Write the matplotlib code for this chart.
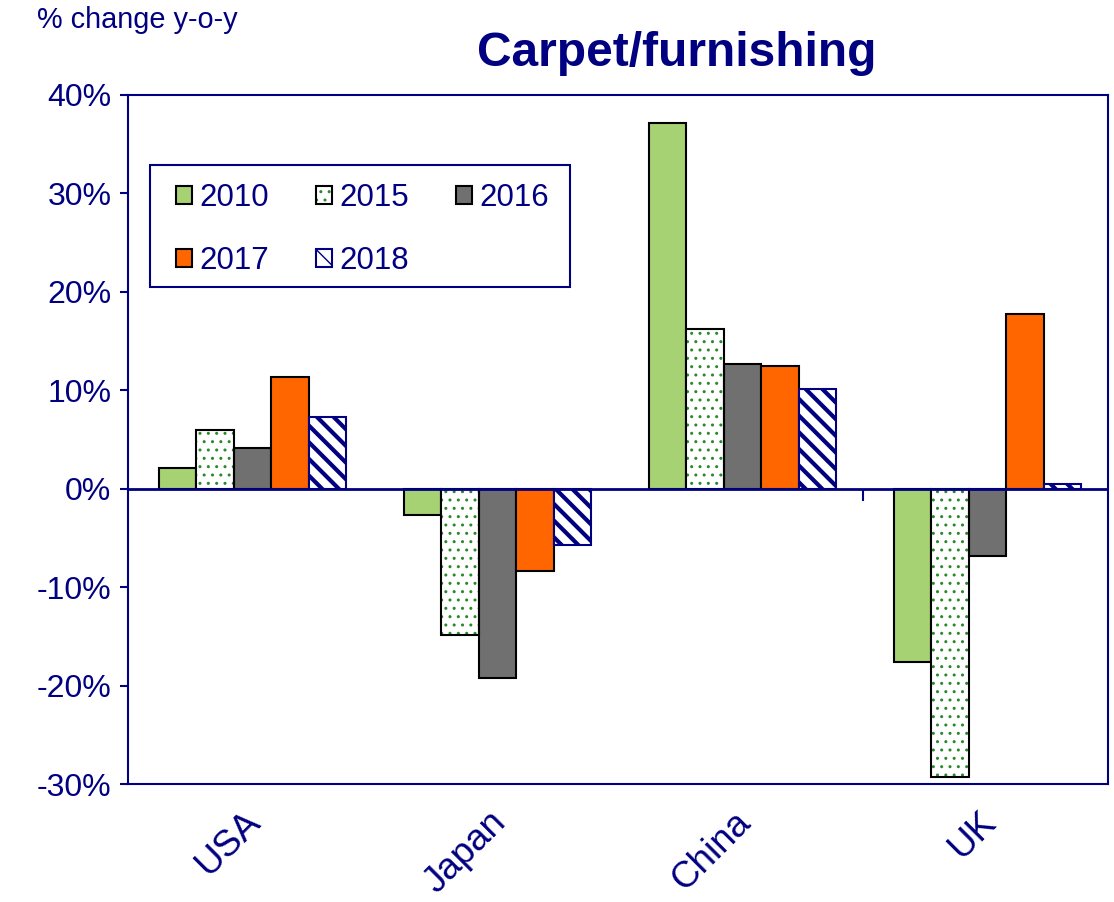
import matplotlib
matplotlib.use("Agg")
import matplotlib.pyplot as plt
import numpy as np
from matplotlib.patches import Rectangle
from matplotlib.ticker import FuncFormatter

plt.rcParams['font.family'] = ['Liberation Sans', 'DejaVu Sans']

categories = ["USA", "Japan", "China", "UK"]
years = ["2010", "2015", "2016", "2017", "2018"]
v2010 = [2.1, -2.7, 37.2, -17.6]
v2015 = [6.0, -14.9, 16.2, -29.3]
v2016 = [4.1, -19.2, 12.7, -6.8]
v2017 = [11.3, -8.4, 12.5, 17.8]
v2018 = [7.3, -5.7, 10.1, 0.5]
series = [v2010, v2015, v2016, v2017, v2018]
yticks = [40, 30, 20, 10, 0, -10, -20, -30]

NAVY = "#000080"
GREEN = "#A6D274"
DOTG = "#2A8A2A"
GRAY = "#707070"
ORANGE = "#FF6600"

fig = plt.figure(figsize=(11.14, 9.02), dpi=100)
ax = fig.add_axes([128/1114, 1-784/902, (1108-128)/1114, (784-95)/902])

x = np.arange(len(categories))
w = 0.153
offs = (np.arange(len(years)) - 2) * w + 0.008
handles = []

# 2010
b = ax.bar(x + offs[0], series[0], w, facecolor=GREEN, edgecolor="black", linewidth=1.5, zorder=3)
handles.append(b[0])
# 2015 dotted
bh = ax.bar(x + offs[1], series[1], w, facecolor="white", edgecolor=DOTG, hatch="..", linewidth=0, zorder=3)
bo = ax.bar(x + offs[1], series[1], w, fill=False, edgecolor="black", linewidth=1.5, zorder=4)
handles.append((bh[0], bo[0]))
# 2016
b = ax.bar(x + offs[2], series[2], w, facecolor=GRAY, edgecolor="black", linewidth=1.5, zorder=3)
handles.append(b[0])
# 2017
b = ax.bar(x + offs[3], series[3], w, facecolor=ORANGE, edgecolor="black", linewidth=1.5, zorder=3)
handles.append(b[0])
# 2018 striped
with plt.rc_context({'hatch.linewidth': 3.0}):
    b = ax.bar(x + offs[4], series[4], w, facecolor="white", edgecolor=NAVY, hatch="\\\\", linewidth=1.5, zorder=3)
    for p in b:
        if hasattr(p, "set_hatch_linewidth"):
            p.set_hatch_linewidth(3.0)
handles.append(b[0])

ax.axhline(0, color=NAVY, linewidth=2, zorder=5)
ax.vlines(len(categories) - 1.5, -1.2, 0, color=NAVY, linewidth=1.5, zorder=5)

ax.set_xlim(-0.5, len(categories) - 0.5)
ax.set_ylim(-30, 40)
ax.set_yticks(yticks)
ax.yaxis.set_major_formatter(FuncFormatter(lambda v, p: f"{int(v)}%"))
ax.set_xticks(x + 0.07)
ax.set_xticklabels(categories, rotation=45, ha="right")
ax.tick_params(axis="x", length=0, pad=15, labelsize=26.5, labelcolor=NAVY)
ax.tick_params(axis="y", length=6, width=1.5, color=NAVY, labelsize=23, labelcolor=NAVY, pad=6)
for s in ax.spines.values():
    s.set_color(NAVY)
    s.set_linewidth(1.5)

ax.add_patch(Rectangle((150/1114, 1-287/902), 420/1114, 122/902, transform=fig.transFigure,
                       fill=True, facecolor="white", edgecolor=NAVY, linewidth=1.5, zorder=6,
                       clip_on=False))
order = [0, 3, 1, 4, 2]
leg = ax.legend([handles[i] for i in order], [years[i] for i in order], ncol=3,
                loc="upper left", bbox_to_anchor=(159/1114, 1-166/902), bbox_transform=fig.transFigure,
                borderaxespad=0, fontsize=22.5, frameon=False,
                handlelength=0.5, handleheight=0.5, handletextpad=0.25, columnspacing=1.5,
                labelspacing=1.05, borderpad=0.55)
leg.set_zorder(7)
for t in leg.get_texts():
    t.set_color(NAVY)

fig.text(677/1114, 1-53/902, "Carpet/furnishing", ha="center", va="center",
         fontsize=34.5, fontweight="bold", color=NAVY)
fig.text(37/1114, 1-20/902, "% change y-o-y", ha="left", va="center", fontsize=20.8, color=NAVY)

fig.savefig("out.png", dpi=100)
